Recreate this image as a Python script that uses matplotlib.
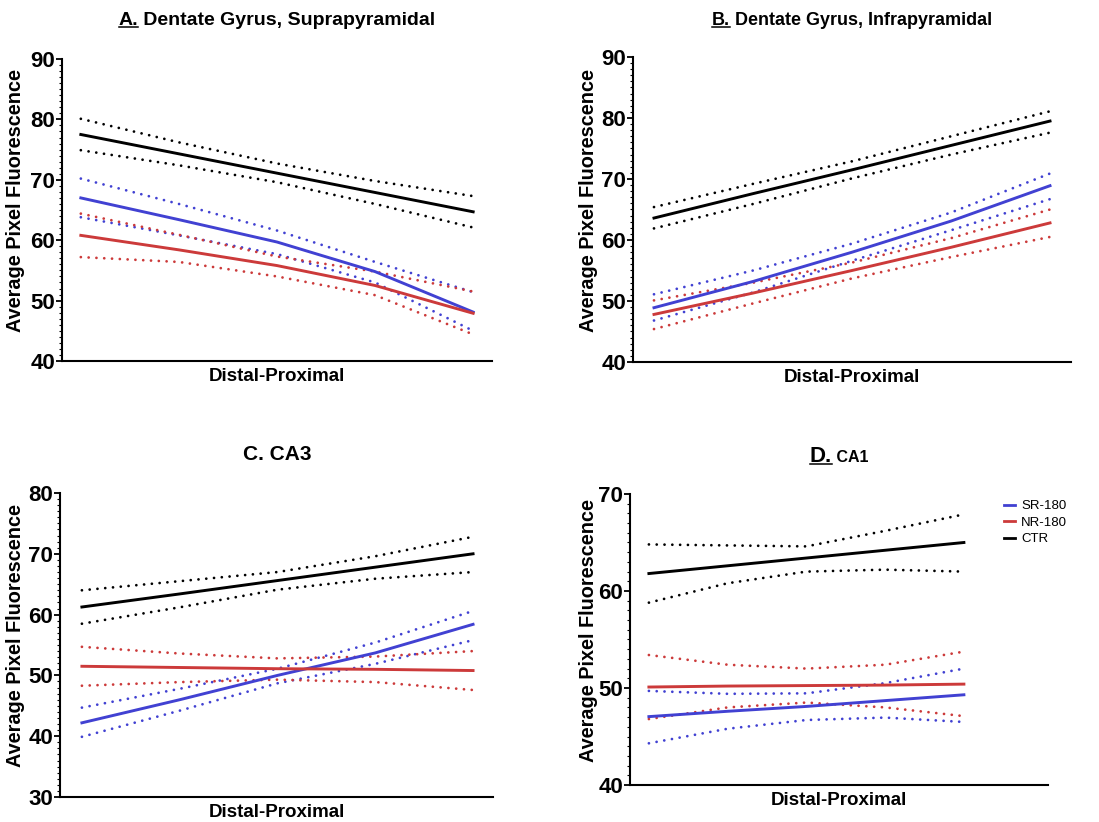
import numpy as np
import matplotlib.pyplot as plt
from matplotlib.lines import Line2D
from matplotlib.ticker import MultipleLocator

plt.rcParams['font.family'] = ['Liberation Sans', 'DejaVu Sans']

# positions along the distal-proximal axis (0 = distal, 1 = proximal)
pos = [0, 0.25, 0.5, 0.75, 1.0]
groups = ['SR-180', 'NR-180', 'CTR']
colors = {'SR-180': '#4141d2', 'NR-180': '#cc3a3a', 'CTR': '#000000'}

# A. Dentate Gyrus, Suprapyramidal
a_sr = [67.0, 63.4, 59.7, 54.8, 48.1]
a_sr_hi = [70.2, 66.0, 61.6, 56.4, 51.4]
a_sr_lo = [63.8, 60.8, 57.7, 53.0, 45.0]
a_nr = [60.8, 58.4, 55.8, 52.5, 47.9]
a_nr_hi = [64.4, 60.9, 57.3, 54.8, 51.5]
a_nr_lo = [57.2, 56.4, 54.0, 50.9, 44.4]
a_ctr = [77.5, 74.3, 71.1, 67.9, 64.7]
a_ctr_hi = [80.1, 76.2, 72.7, 69.8, 67.3]
a_ctr_lo = [74.9, 72.4, 69.6, 66.0, 62.1]

# B. Dentate Gyrus, Infrapyramidal
b_sr = [48.9, 53.2, 58.0, 63.1, 68.9]
b_sr_hi = [51.1, 55.0, 59.4, 64.5, 70.9]
b_sr_lo = [46.8, 51.4, 56.6, 61.6, 66.7]
b_nr = [47.8, 51.3, 55.0, 58.8, 62.8]
b_nr_hi = [50.1, 53.0, 56.3, 60.3, 65.0]
b_nr_lo = [45.4, 49.6, 53.7, 57.2, 60.5]
b_ctr = [63.6, 67.6, 71.5, 75.5, 79.5]
b_ctr_hi = [65.4, 69.2, 72.9, 77.0, 81.1]
b_ctr_lo = [61.9, 65.9, 70.1, 74.0, 77.6]

# C. CA3
c_sr = [42.2, 46.0, 50.0, 53.7, 58.4]
c_sr_hi = [44.7, 47.8, 51.1, 55.4, 60.6]
c_sr_lo = [39.9, 44.2, 48.7, 51.9, 55.8]
c_nr = [51.5, 51.3, 51.1, 51.0, 50.8]
c_nr_hi = [54.7, 53.6, 52.8, 53.1, 54.0]
c_nr_lo = [48.3, 48.9, 49.3, 48.9, 47.6]
c_ctr = [61.25, 63.4, 65.6, 67.8, 70.0]
c_ctr_hi = [64.0, 65.5, 67.0, 69.6, 72.8]
c_ctr_lo = [58.5, 61.2, 64.1, 65.9, 67.0]

# D. CA1
d_sr = [47.05, 47.6, 48.1, 48.7, 49.3]
d_sr_hi = [49.7, 49.4, 49.45, 50.5, 52.0]
d_sr_lo = [44.3, 45.8, 46.7, 46.95, 46.5]
d_nr = [50.1, 50.2, 50.25, 50.3, 50.4]
d_nr_hi = [53.4, 52.4, 52.0, 52.4, 53.75]
d_nr_lo = [46.8, 48.0, 48.5, 48.0, 47.1]
d_ctr = [61.8, 62.6, 63.4, 64.2, 65.0]
d_ctr_hi = [64.8, 64.7, 64.6, 66.2, 67.9]
d_ctr_lo = [58.8, 60.8, 62.0, 62.2, 62.0]

W, H = 1099, 822
fig = plt.figure(figsize=(W / 100, H / 100), dpi=100)


def px_axes(left, top, right, bottom):
    return fig.add_axes([left / W, 1 - bottom / H, (right - left) / W, (bottom - top) / H])


panels = [
    (px_axes(62, 59, 492, 361), (40, 90), (-0.048, 1.048),
     {'SR-180': (a_sr, a_sr_hi, a_sr_lo), 'NR-180': (a_nr, a_nr_hi, a_nr_lo), 'CTR': (a_ctr, a_ctr_hi, a_ctr_lo)}),
    (px_axes(633, 57, 1071, 362), (40, 90), (-0.053, 1.053),
     {'SR-180': (b_sr, b_sr_hi, b_sr_lo), 'NR-180': (b_nr, b_nr_hi, b_nr_lo), 'CTR': (b_ctr, b_ctr_hi, b_ctr_lo)}),
    (px_axes(60, 493, 493, 797), (30, 80), (-0.056, 1.051),
     {'SR-180': (c_sr, c_sr_hi, c_sr_lo), 'NR-180': (c_nr, c_nr_hi, c_nr_lo), 'CTR': (c_ctr, c_ctr_hi, c_ctr_lo)}),
    (px_axes(630, 494, 1048, 785), (40, 70), (-0.06, 1.267),
     {'SR-180': (d_sr, d_sr_hi, d_sr_lo), 'NR-180': (d_nr, d_nr_hi, d_nr_lo), 'CTR': (d_ctr, d_ctr_hi, d_ctr_lo)}),
]

label_x = [-0.085, -0.08, -0.081, -0.077]

for (ax, ylim, xlim, series), lx in zip(panels, label_x):
    for g in groups:
        mid, hi, lo = series[g]
        for band in (hi, lo):
            ax.plot(pos, band, color=colors[g], lw=2.0, ls=(0, (0.01, 2.8)),
                    dash_capstyle='round')
    for g in groups:
        mid, hi, lo = series[g]
        ax.plot(pos, mid, color=colors[g], lw=2.1, label=g)
    ax.set_xlim(*xlim)
    ax.set_ylim(*ylim)
    ax.spines['top'].set_visible(False)
    ax.spines['right'].set_visible(False)
    ax.spines['left'].set_linewidth(1.5)
    ax.spines['bottom'].set_linewidth(1.5)
    ax.set_xticks([])
    yt = np.arange(ylim[0], ylim[1] + 1, 10)
    ax.set_yticks(yt)
    ax.set_yticklabels([str(v) for v in yt], fontsize=16, fontweight='bold')
    ax.yaxis.set_minor_locator(MultipleLocator(1))
    ax.tick_params(axis='y', which='major', length=4, width=1.3, pad=1)
    ax.tick_params(axis='y', which='minor', length=2.5, width=0.8)
    ax.set_ylabel('Average Pixel Fluorescence', fontsize=14.3, fontweight='bold')
    ax.yaxis.set_label_coords(lx, 0.53)
    ax.set_xlabel('Distal-Proximal', fontsize=13.5, fontweight='bold', labelpad=5)

# legend in panel D
handles = [Line2D([], [], color=colors[g], lw=2) for g in groups]
fig.legend(handles, groups, loc='upper left', bbox_to_anchor=(1004 / W, 1 - 500 / H),
           frameon=False, fontsize=9.5, handlelength=0.85, handletextpad=0.45,
           labelspacing=0.32, borderpad=0, borderaxespad=0)

# titles, with underlined panel letters
renderer = fig.canvas.get_renderer()


def title(xc, yb, parts):
    objs = []
    for s, size, ul in parts:
        t = fig.text(0, 1 - yb / H, s, fontsize=size, fontweight='bold',
                     ha='left', va='baseline')
        objs.append((t, ul, t.get_window_extent(renderer).width))
    x = xc - sum(w for _, _, w in objs) / 2
    for t, ul, w in objs:
        t.set_x(x / W)
        if ul:
            fig.add_artist(Line2D([x / W, (x + w) / W], [1 - (yb + 2) / H] * 2,
                                  lw=1.1, color='black', transform=fig.transFigure))
        x += w


title(277, 25, [('A.', 14, True), (' Dentate Gyrus, Suprapyramidal', 14, False)])
title(852, 25, [('B.', 13, True), (' Dentate Gyrus, Infrapyramidal', 13, False)])
title(277, 460, [('C. CA3', 15, False)])
title(839, 462, [('D.', 16, True), (' CA1', 11.5, False)])

fig.savefig('out.png', dpi=100)
